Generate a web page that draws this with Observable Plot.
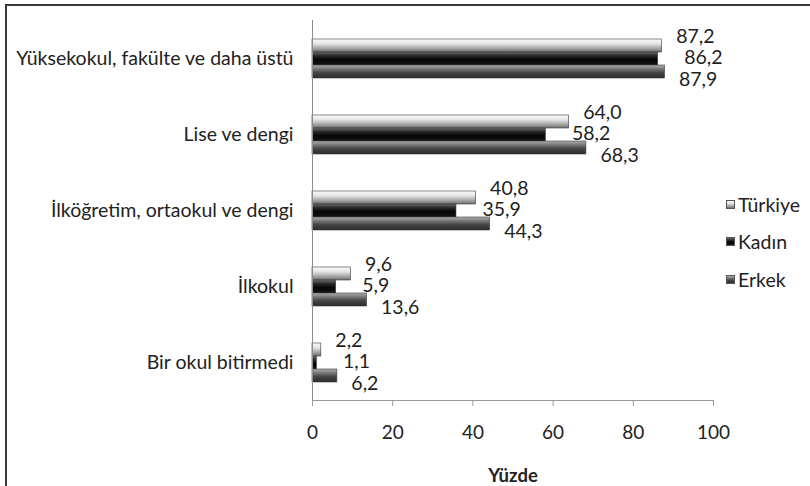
<!DOCTYPE html>
<html>
<head>
<meta charset="utf-8">
<script src="https://cdn.jsdelivr.net/npm/d3@7"></script>
<script src="https://cdn.jsdelivr.net/npm/@observablehq/plot@0.6"></script>
<style>
  html, body { margin: 0; padding: 0; background: #fff; }
  #wrap { position: relative; width: 810px; height: 486px; overflow: hidden; background: #fff; }
  #wrap svg { position: absolute; left: 0; top: 0; }
  #border { position: absolute; left: 5px; top: 4px; width: 810px; height: 490px;
            border-top: 2px solid #3a3a3a; border-left: 2px solid #3a3a3a; pointer-events: none; }
  #legend { position: absolute; left: 726px; top: 191px; font-family: Lato, sans-serif; font-size: 19.5px; color: #222; }
  #legend .item { display: flex; align-items: center; height: 26px; margin-bottom: 11.5px; }
  #legend .sw { width: 9px; height: 9px; margin-right: 3px; box-sizing: border-box; border: 0.5px solid #555; }
  g[aria-label="x-axis label"] text { font-weight: bold; font-size: 18.5px; }
</style>
</head>
<body>
<div id="wrap">
  <div id="chart"></div>
  <div id="legend"></div>
  <div id="border"></div>
</div>
<script>
const categories = [
  "Yüksekokul, fakülte ve daha üstü",
  "Lise ve dengi",
  "İlköğretim, ortaokul ve dengi",
  "İlkokul",
  "Bir okul bitirmedi"
];
const series = ["Türkiye", "Kadın", "Erkek"];
const turkiye = [87.2, 64.0, 40.8, 9.6, 2.2];
const kadin   = [86.2, 58.2, 35.9, 5.9, 1.1];
const erkek   = [87.9, 68.3, 44.3, 13.6, 6.2];
const xTicks  = [0, 20, 40, 60, 80, 100];
const xLabel  = "Yüzde";

const valuesBySeries = { "Türkiye": turkiye, "Kadın": kadin, "Erkek": erkek };
const data = categories.flatMap((c, i) =>
  series.map(s => ({ cat: c, series: s, value: valuesBySeries[s][i] })));

const gradIds = { "Türkiye": "gT", "Kadın": "gK", "Erkek": "gE" };
const gradStops = {
  gT: [[0, "#fbfbfb"], [0.35, "#e6e6e6"], [0.7, "#a8a8a8"], [1, "#6e6e6e"]],
  gK: [[0, "#6a6a6a"], [0.3, "#262626"], [0.6, "#050505"], [1, "#141414"]],
  gE: [[0, "#b0b0b0"], [0.3, "#767676"], [0.6, "#444444"], [1, "#2c2c2c"]]
};

const fmt = v => v.toFixed(1).replace(".", ",");
const labelOffsets = { "Türkiye": { dx: 14, dy: -9 }, "Kadın": { dx: 26, dy: -1 }, "Erkek": { dx: 14, dy: 8 } };

const chart = Plot.plot({
  width: 810,
  height: 486,
  marginLeft: 312,
  marginRight: 97,
  marginTop: 18,
  marginBottom: 84,
  style: { fontFamily: "Lato, sans-serif", fontSize: "19px", color: "#222", background: "transparent", overflow: "visible" },
  x: { domain: [0, 100], ticks: xTicks, label: xLabel, labelArrow: "none" },
  fy: { domain: categories, padding: 0, label: null },
  y: { domain: series, paddingInner: 0, paddingOuter: 1.38, axis: null },
  color: { domain: series, range: series.map(s => `url(#${gradIds[s]})`) },
  marks: [
    Plot.frame({ anchor: "bottom", facetAnchor: "bottom", stroke: "#9a9a9a" }),
    Plot.barX(data, { x: "value", y: "series", fy: "cat", fill: "series", stroke: "#3a3a3a", strokeWidth: 0.6 }),
    Plot.ruleX([0], { stroke: "#8c8c8c", strokeWidth: 1 }),
    ...series.map(s => Plot.text(data.filter(d => d.series === s), {
      x: "value", y: "series", fy: "cat", text: d => fmt(d.value),
      textAnchor: "start", dx: labelOffsets[s].dx, dy: labelOffsets[s].dy,
      fill: "#1e1e1e", fontSize: 19.5
    })),
    Plot.axisFy({ anchor: "left", tickSize: 0, tickPadding: 19, label: null, fontSize: 19.5, fill: "#222" }),
    Plot.axisX({ ticks: xTicks, tickSize: 6, tickPadding: 19, stroke: "#9a9a9a",
                 fill: "#222", fontSize: 19, label: xLabel, labelAnchor: "center", labelArrow: "none" })
  ]
});

const svg = d3.select(chart);
const defs = svg.insert("defs", ":first-child");
Object.entries(gradStops).forEach(([id, stops]) => {
  const g = defs.append("linearGradient").attr("id", id)
    .attr("x1", 0).attr("y1", 0).attr("x2", 0).attr("y2", 1);
  stops.forEach(([o, c]) => g.append("stop").attr("offset", o).attr("stop-color", c));
});
document.getElementById("chart").appendChild(chart);

const legend = d3.select("#legend");
series.forEach(s => {
  const stops = gradStops[gradIds[s]].map(([o, c]) => `${c} ${o * 100}%`).join(", ");
  const item = legend.append("div").attr("class", "item");
  item.append("div").attr("class", "sw").style("background", `linear-gradient(to bottom, ${stops})`);
  item.append("span").text(s);
});
</script>
</body>
</html>
